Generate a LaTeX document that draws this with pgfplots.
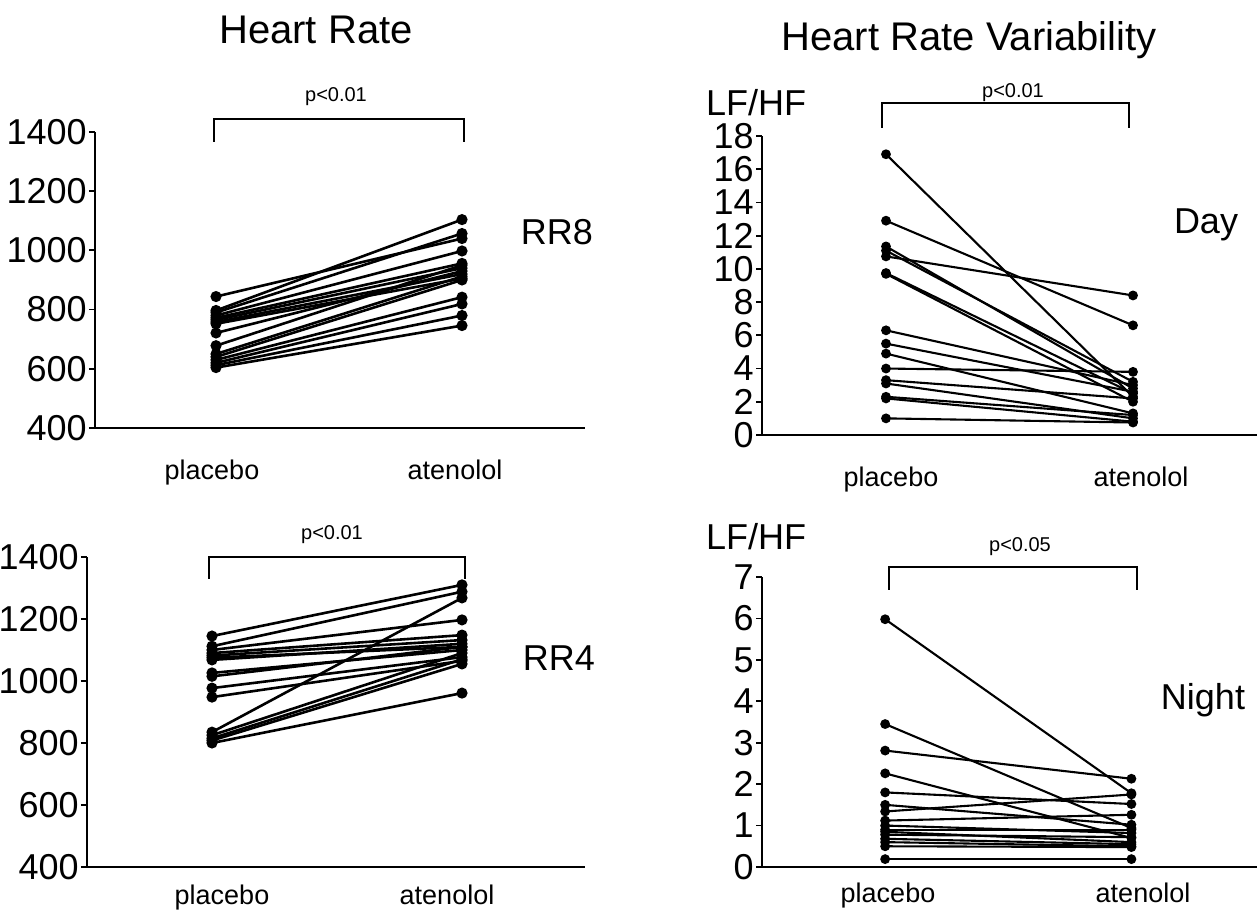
\documentclass[border=0pt]{standalone}
\usepackage{fontspec}
\setmainfont{Liberation Sans}
\usepackage{pgfplots}
\pgfplotsset{compat=1.18}
\pgfplotscreateplotcyclelist{monoA}{black,solid,line width=1.3pt,mark=*,mark size=2.1pt,mark options={solid,fill=black}\\}
\pgfplotscreateplotcyclelist{monoB}{black,solid,line width=1.05pt,mark=*,mark size=1.9pt,mark options={solid,fill=black}\\}
\pgfplotsset{
  pp/.style={
    scale only axis, anchor=south west,
    axis x line=bottom, axis y line=left,
    axis line style={-, line width=1pt},
    xtick=\empty, tick align=outside, major tick length=3pt,
    tick style={line width=0.9pt, black},
    /pgf/number format/assume math mode=true,
    /pgf/number format/1000 sep={},
    yticklabel style={font=\fontsize{18}{18}\selectfont, inner sep=1pt},
    clip=false,
  }
}
\begin{document}
\begin{tikzpicture}
\useasboundingbox (0,0) rectangle (629pt,456.5pt);
% ---------- Panel 1: RR8 ----------
\begin{axis}[pp, cycle list name=monoA, at={(47.5pt,242.5pt)}, width=245pt, height=148pt,
  xmin=-0.492, xmax=1.5, ymin=400, ymax=1400, ytick={400,600,...,1400}]
\addplot coordinates {(0,844) (1,1040)};
\addplot coordinates {(0,797) (1,1104)};
\addplot coordinates {(0,790) (1,1057)};
\addplot coordinates {(0,780) (1,998)};
\addplot coordinates {(0,772) (1,956)};
\addplot coordinates {(0,765) (1,940)};
\addplot coordinates {(0,758) (1,920)};
\addplot coordinates {(0,752) (1,905)};
\addplot coordinates {(0,721) (1,930)};
\addplot coordinates {(0,678) (1,950)};
\addplot coordinates {(0,650) (1,912)};
\addplot coordinates {(0,640) (1,900)};
\addplot coordinates {(0,630) (1,842)};
\addplot coordinates {(0,620) (1,819)};
\addplot coordinates {(0,612) (1,780)};
\addplot coordinates {(0,604) (1,746)};
\end{axis}
% ---------- Panel 2: RR4 ----------
\begin{axis}[pp, cycle list name=monoA, at={(43.5pt,23pt)}, width=249pt, height=155pt,
  xmin=-0.5, xmax=1.492, ymin=400, ymax=1400, ytick={400,600,...,1400}]
\addplot coordinates {(0,1145) (1,1310)};
\addplot coordinates {(0,1112) (1,1288)};
\addplot coordinates {(0,1100) (1,1197)};
\addplot coordinates {(0,1090) (1,1148)};
\addplot coordinates {(0,1082) (1,1132)};
\addplot coordinates {(0,1075) (1,1110)};
\addplot coordinates {(0,1068) (1,1120)};
\addplot coordinates {(0,1026) (1,1100)};
\addplot coordinates {(0,1015) (1,1110)};
\addplot coordinates {(0,977) (1,1077)};
\addplot coordinates {(0,948) (1,1065)};
\addplot coordinates {(0,835) (1,1268)};
\addplot coordinates {(0,825) (1,1090)};
\addplot coordinates {(0,815) (1,1070)};
\addplot coordinates {(0,808) (1,1055)};
\addplot coordinates {(0,800) (1,961)};
\end{axis}
% ---------- Panel 3: Day ----------
\begin{axis}[pp, cycle list name=monoB, at={(381pt,239pt)}, width=247.5pt, height=149.5pt,
  xmin=-0.502, xmax=1.502, ymin=0, ymax=18, ytick={0,2,...,18}]
\addplot coordinates {(0,16.9) (1,2.3)};
\addplot coordinates {(0,12.9) (1,6.6)};
\addplot coordinates {(0,11.35) (1,2.8)};
\addplot coordinates {(0,11.1) (1,3.2)};
\addplot coordinates {(0,10.75) (1,8.4)};
\addplot coordinates {(0,9.75) (1,2.5)};
\addplot coordinates {(0,9.7) (1,2.0)};
\addplot coordinates {(0,6.3) (1,3.0)};
\addplot coordinates {(0,5.5) (1,2.6)};
\addplot coordinates {(0,4.9) (1,1.3)};
\addplot coordinates {(0,4.0) (1,3.8)};
\addplot coordinates {(0,3.3) (1,2.2)};
\addplot coordinates {(0,3.1) (1,1.0)};
\addplot coordinates {(0,2.3) (1,1.2)};
\addplot coordinates {(0,2.2) (1,0.8)};
\addplot coordinates {(0,1.0) (1,0.75)};
\end{axis}
% ---------- Panel 4: Night ----------
\begin{axis}[pp, cycle list name=monoB, at={(381pt,23pt)}, width=247.5pt, height=145pt,
  xmin=-0.5, xmax=1.51, ymin=0, ymax=7, ytick={0,1,...,7}]
\addplot coordinates {(0,5.98) (1,1.78)};
\addplot coordinates {(0,3.45) (1,0.94)};
\addplot coordinates {(0,2.81) (1,2.13)};
\addplot coordinates {(0,2.26) (1,0.7)};
\addplot coordinates {(0,1.80) (1,1.52)};
\addplot coordinates {(0,1.34) (1,1.75)};
\addplot coordinates {(0,1.50) (1,1.02)};
\addplot coordinates {(0,1.12) (1,1.26)};
\addplot coordinates {(0,1.0) (1,0.82)};
\addplot coordinates {(0,0.9) (1,0.9)};
\addplot coordinates {(0,0.85) (1,0.6)};
\addplot coordinates {(0,0.78) (1,0.72)};
\addplot coordinates {(0,0.68) (1,0.55)};
\addplot coordinates {(0,0.6) (1,0.5)};
\addplot coordinates {(0,0.5) (1,0.48)};
\addplot coordinates {(0,0.19) (1,0.19)};
\end{axis}
% ---------- Text and brackets (pixel coords: X=x/2, Y=(913-y)/2) ----------
\node[font=\fontsize{20}{20}\selectfont] at (158pt,441.5pt) {Heart Rate};
\node[font=\fontsize{20}{20}\selectfont] at (484.5pt,436.5pt) {Heart Rate Variability};
% panel 1
\node[font=\fontsize{10}{10}\selectfont] at (168pt,408pt) {p<0.01};
\draw[line width=0.8pt] (107pt,385.5pt) -- (107pt,397pt) -- (232pt,397pt) -- (232pt,385.5pt);
\node[font=\fontsize{18}{18}\selectfont] at (278.5pt,340.5pt) {RR8};
\node[font=\fontsize{13.5}{13.5}\selectfont, anchor=base] at (106pt,216.5pt) {placebo};
\node[font=\fontsize{13.5}{13.5}\selectfont, anchor=base] at (227.5pt,216.5pt) {atenolol};
% panel 2
\node[font=\fontsize{10}{10}\selectfont] at (166pt,189pt) {p<0.01};
\draw[line width=0.8pt] (104.5pt,167pt) -- (104.5pt,178pt) -- (232.5pt,178pt) -- (232.5pt,167pt);
\node[font=\fontsize{18}{18}\selectfont] at (279.5pt,127.5pt) {RR4};
\node[font=\fontsize{13.5}{13.5}\selectfont, anchor=base] at (111pt,4pt) {placebo};
\node[font=\fontsize{13.5}{13.5}\selectfont, anchor=base] at (223.5pt,4pt) {atenolol};
% panel 3
\node[font=\fontsize{18}{18}\selectfont] at (378pt,405pt) {LF/HF};
\node[font=\fontsize{10}{10}\selectfont] at (506.5pt,410pt) {p<0.01};
\draw[line width=0.8pt] (441pt,392.5pt) -- (441pt,405pt) -- (564.5pt,405pt) -- (564.5pt,392.5pt);
\node[font=\fontsize{18}{18}\selectfont] at (603pt,344pt) {Day};
\node[font=\fontsize{13.5}{13.5}\selectfont, anchor=base] at (445.5pt,213pt) {placebo};
\node[font=\fontsize{13.5}{13.5}\selectfont, anchor=base] at (570.5pt,213pt) {atenolol};
% panel 4
\node[font=\fontsize{18}{18}\selectfont] at (378pt,188pt) {LF/HF};
\node[font=\fontsize{10}{10}\selectfont] at (510pt,183pt) {p<0.05};
\draw[line width=0.8pt] (444.5pt,161.5pt) -- (444.5pt,173pt) -- (568.5pt,173pt) -- (568.5pt,161.5pt);
\node[font=\fontsize{18}{18}\selectfont] at (601.5pt,106.5pt) {Night};
\node[font=\fontsize{13.5}{13.5}\selectfont, anchor=base] at (444pt,5pt) {placebo};
\node[font=\fontsize{13.5}{13.5}\selectfont, anchor=base] at (571.5pt,5pt) {atenolol};
\end{tikzpicture}
\end{document}
